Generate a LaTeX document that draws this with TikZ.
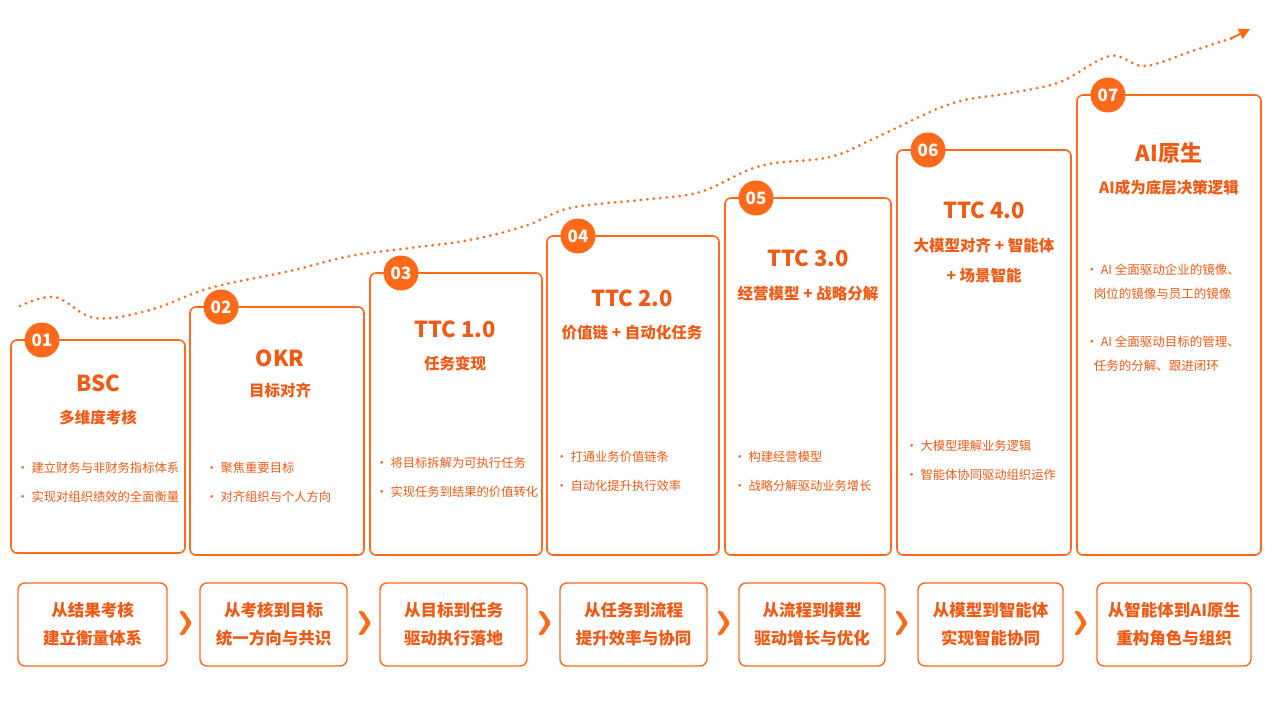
\documentclass[tikz,border=0pt]{standalone}
\usepackage{fontspec}
\setmainfont{Noto Sans CJK SC}
\usetikzlibrary{arrows.meta}
\definecolor{og}{HTML}{FF6A1A}
\definecolor{ot}{HTML}{F05A14}
\begin{document}
\begin{tikzpicture}[x=1pt,y=-1pt,
 card/.style={draw=og,line width=1.6pt,rounded corners=6pt,fill=white},
 num/.style={circle,fill=og,text=white,minimum size=35pt,inner sep=0pt,font=\fontsize{17}{17}\selectfont\bfseries},
 ttl/.style={text=ot,font=\fontsize{22}{22}\selectfont\bfseries},
 sub/.style={text=ot,font=\fontsize{15.5}{30}\selectfont\bfseries,align=center},
 bul/.style={text=ot,anchor=west,font=\fontsize{12.3}{29}\selectfont,align=left},
 box/.style={draw=og,line width=1.4pt,rounded corners=7pt,text=ot,align=center,font=\fontsize{16.5}{28}\selectfont\bfseries},
 chev/.style={inner sep=0pt,minimum size=0pt}]
\useasboundingbox (0,0) rectangle (1280,701);
\fill[white] (0,0) rectangle (1280,701);
% dotted curve
\draw[og,line width=3pt,dash pattern=on 0pt off 6.5pt,line cap=round]
 plot[smooth,tension=0.6] coordinates {(20,306) (55,297) (95,318) (150,310) (210,288) (290,271) (350,256) (410,248) (470,240) (525,226) (570,208) (640,200) (700,192) (760,166) (830,157) (875,138) (950,104) (1010,93) (1060,82) (1110,56) (1145,66) (1195,50) (1232,38)};
\coordinate (a0) at (1230,39);
\coordinate (arr) at (1250,29);
\draw[og,line width=2pt,-{Triangle[length=11pt,width=11pt]}] (a0) -- (arr);
% cards
\foreach \i/\a/\b/\c/\d in {1/11/340/185/553,2/190/307/364/555,3/370/273/542/555,4/547/236/719/555,5/725/198/891/555,6/897/150/1071/555,7/1077/95/1261/555}{
 \draw[card] (\a,\b) rectangle (\c,\d);
 \node[num] (n\i) at (\a+31,\b) {0\i};}
% titles
\node[ttl] (t1) at (98,383) {BSC};
\node[sub] (s1) at (98,418) {多维度考核};
\node[ttl] (t2) at (280,358) {OKR};
\node[sub] (s2) at (280,391) {目标对齐};
\node[ttl] (t3) at (455,329) {TTC 1.0};
\node[sub] (s3) at (455,364) {任务变现};
\node[ttl] (t4) at (632,298) {TTC 2.0};
\node[sub] (s4) at (632,333) {价值链 + 自动化任务};
\node[ttl] (t5) at (808,258) {TTC 3.0};
\node[sub] (s5) at (808,294) {经营模型 + 战略分解};
\node[ttl] (t6) at (984,210) {TTC 4.0};
\node[sub] (s6) at (984,260) {大模型对齐 + 智能体\\+ 场景智能};
\node[ttl] (t7) at (1169,153) {AI原生};
\node[sub] (s7) at (1169,188) {AI成为底层决策逻辑};
% bullets
\node[bul] (b1) at (13,482) {•\ 建立财务与非财务指标体系\\•\ 实现对组织绩效的全面衡量};
\node[bul] (b2) at (202,482) {•\ 聚焦重要目标\\•\ 对齐组织与个人方向};
\node[bul] (b3) at (372,477) {•\ 将目标拆解为可执行任务\\•\ 实现任务到结果的价值转化};
\node[bul] (b4) at (552,471) {•\ 打通业务价值链条\\•\ 自动化提升执行效率};
\node[bul] (b5) at (730,471) {•\ 构建经营模型\\•\ 战略分解驱动业务增长};
\node[bul] (b6) at (902,460) {•\ 大模型理解业务逻辑\\•\ 智能体协同驱动组织运作};
\node[bul,font=\fontsize{12.5}{24}\selectfont] (b7a) at (1082,282) {•\ AI 全面驱动企业的镜像、\\\ \ \ 岗位的镜像与员工的镜像};
\node[bul,font=\fontsize{12.5}{24}\selectfont] (b7b) at (1082,354) {•\ AI 全面驱动目标的管理、\\\ \ \ 任务的分解、跟进闭环};
% bottom boxes
\foreach \i/\a/\c/\t in {1/18/167/从结果考核\\建立衡量体系,2/200/347/从考核到目标\\统一方向与共识,3/380/527/从目标到任务\\驱动执行落地,4/560/707/从任务到流程\\提升效率与协同,5/739/885/从流程到模型\\驱动增长与优化,6/918/1063/从模型到智能体\\实现智能协同,7/1097/1251/从智能体到AI原生\\重构角色与组织}{
 \node[box,minimum width=\c-\a,minimum height=83pt,inner sep=0pt] (q\i) at ({(\a+\c)/2},624.5) {\t};}
\foreach \i/\x in {1/185,2/364,3/544,4/723,5/901,6/1080}{
 \node[chev] (c\i) at (\x,623) {};
 \fill[og,rounded corners=1.5pt] (\x-6,611) -- (\x-1,611) -- (\x+7,623) -- (\x-1,635) -- (\x-6,635) -- (\x+2,623) -- cycle;}
\end{tikzpicture}
\end{document}
